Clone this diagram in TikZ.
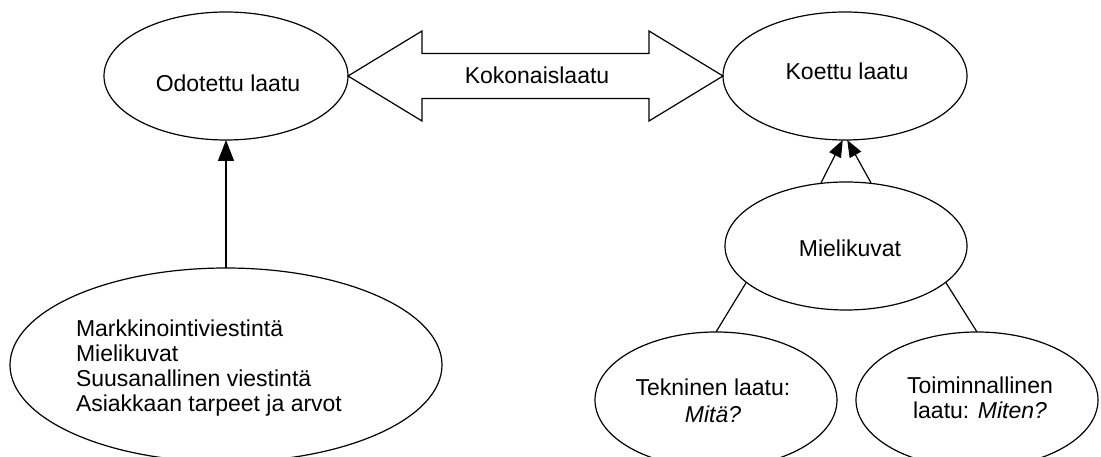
\documentclass[tikz,border=0pt]{standalone}
\usepackage{fontspec}
\setmainfont{Liberation Sans}
\usetikzlibrary{arrows.meta,shapes.geometric}
\tikzset{
  oval/.style={draw, ellipse, line width=1.2pt, inner sep=0pt, outer sep=0pt},
  lbl/.style={inner sep=0pt, outer sep=0pt, font=\fontsize{23}{25}\selectfont},
  conn/.style={line width=1.2pt},
  bigtip/.style={-{Triangle[length=21pt,width=16pt]}},
  smalltip/.style={-{Triangle[length=17pt,width=13pt]}},
}
\begin{document}
\begin{tikzpicture}[x=1pt,y=-1pt]
\clip (0,0) rectangle (1101,457);
\fill[white] (0,0) rectangle (1101,457);
% ellipses
\node[oval, minimum width=244pt, minimum height=128pt] (odo) at (226,76) {};
\node[oval, minimum width=244pt, minimum height=128pt] (koe) at (845,76) {};
\node[oval, minimum width=242pt, minimum height=128pt] (mie) at (846,246) {};
\node[oval, minimum width=432pt, minimum height=194pt] (bl) at (226,365) {};
\node[oval, minimum width=242pt, minimum height=136pt] (tek) at (716,400) {};
\node[oval, minimum width=242pt, minimum height=136pt] (toi) at (977,400) {};
% texts
\node[lbl, anchor=base] (todo) at (228,92) {Odotettu laatu};
\node[lbl, anchor=base] (tkoe) at (847,80) {Koettu laatu};
\node[lbl, anchor=base] (tmie) at (850,257) {Mielikuvat};
\node[lbl, anchor=base] (tkok) at (537,84) {Kokonaislaatu};
\node[lbl, anchor=base west, align=left] (tbl) at (76,411) {Markkinointiviestintä\\Mielikuvat\\Suusanallinen viestintä\\Asiakkaan tarpeet ja arvot};
\node[lbl, anchor=base, align=center] (ttek) at (713,422) {Tekninen laatu:\\[2pt]\textit{Mitä?}};
\node[lbl, anchor=base, align=center] (ttoi) at (980,418) {Toiminnallinen\\laatu: \textit{Miten?}};
% double arrow
\draw[line width=1.2pt, line join=miter] (odo.east) -- ++(74,-45) -- ++(0,22.5) -- ++(227,0) -- ++(0,-22.5) -- (koe.west) -- ++(-74,45) -- ++(0,-22.5) -- ++(-227,0) -- ++(0,22.5) -- cycle;
% connectors
\draw[conn, bigtip] (bl.north) -- (odo.south);
\draw[conn, smalltip] (mie.112) -- (koe.268);
\draw[conn, smalltip] (mie.68) -- (koe.272);
\draw[conn] (mie.200) -- (tek.north);
\draw[conn] (mie.340) -- (toi.north);
\end{tikzpicture}
\end{document}
